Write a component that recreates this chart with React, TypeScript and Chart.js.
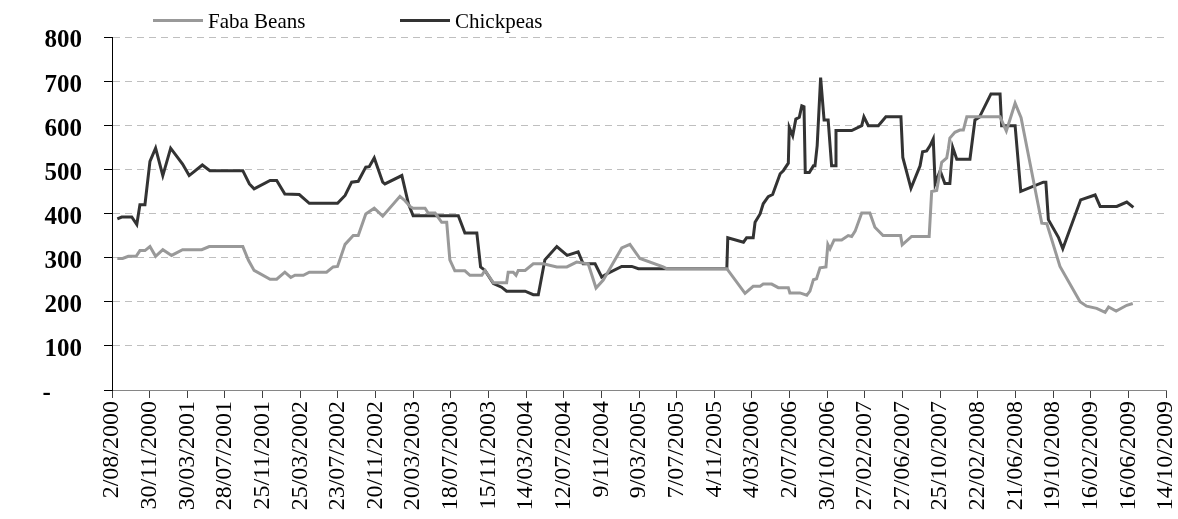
import React, { useEffect, useRef } from 'react';
import { Chart, registerables } from 'chart.js';

Chart.register(...registerables);

// Axis definition: days counted from 2/08/2000, ticks every 120 days up to 14/10/2009
const START_UTC = Date.UTC(2000, 7, 2);
const X_TICK_STEP_DAYS = 120;
const X_MAX_DAYS = 3360;
const Y_MIN = 0;
const Y_MAX = 800;
const Y_STEP = 100;

const seriesLabels = ['Faba Beans', 'Chickpeas'];

// Faba Beans ($/t) — x in days since 2/08/2000
const fabaDays = [
  17, 34, 52, 77, 89, 105, 121, 139, 162, 190, 225, 286, 310, 417, 435, 453, 504, 525, 551, 570,
  583, 610, 629, 684, 705, 719, 743, 769, 785, 809, 836, 863, 918, 934, 950, 960, 998, 1008, 1030, 1051,
  1067, 1077, 1093, 1125, 1141, 1179, 1189, 1216, 1258, 1263, 1279, 1288, 1295, 1317, 1343, 1375, 1418, 1450, 1481, 1518,
  1543, 1566, 1625, 1651, 1683, 1757, 1768, 1960, 2018, 2044, 2066, 2076, 2103, 2124, 2156, 2161, 2193, 2215, 2225, 2236,
  2246, 2257, 2276, 2282, 2289, 2302, 2326, 2347, 2358, 2369, 2390, 2416, 2432, 2458, 2514, 2519, 2549, 2605, 2613, 2629,
  2645, 2661, 2666, 2671, 2687, 2703, 2714, 2725, 2831, 2851, 2879, 2898, 2964, 2980, 3022, 3086, 3107, 3139, 3166, 3177,
  3201, 3235, 3254,
];
const fabaPrices = [
  298, 298, 303, 303, 316, 316, 325, 303, 318, 305, 318, 318, 325, 325, 294, 271, 251, 251, 267, 255,
  260, 260, 267, 267, 279, 280, 330, 350, 350, 399, 412, 394, 439, 429, 416, 412, 412, 401, 401, 380,
  380, 295, 270, 270, 260, 260, 271, 243, 243, 267, 267, 260, 271, 271, 286, 286, 279, 279, 290, 286,
  231, 249, 322, 330, 298, 279, 275, 275, 219, 235, 235, 240, 240, 232, 232, 220, 220, 215, 224, 250,
  252, 277, 279, 330, 320, 340, 340, 350, 348, 360, 401, 401, 369, 350, 350, 329, 348, 348, 450, 452,
  516, 526, 546, 571, 584, 589, 589, 619, 619, 587, 650, 617, 378, 377, 280, 200, 190, 185, 176, 188,
  179, 192, 196,
];

// Chickpeas ($/t)
const chickDays = [
  17, 31, 63, 79, 89, 105, 121, 139, 162, 187, 225, 246, 288, 312, 417, 438, 453, 504, 525, 551,
  597, 629, 719, 743, 764, 785, 809, 820, 836, 863, 870, 924, 945, 960, 1104, 1125, 1163, 1175, 1189, 1216,
  1242, 1258, 1317, 1343, 1359, 1380, 1418, 1451, 1486, 1502, 1540, 1561, 1582, 1625, 1657, 1678, 1960, 1963, 2013, 2023,
  2044, 2050, 2066, 2076, 2092, 2106, 2130, 2140, 2156, 2159, 2170, 2180, 2191, 2199, 2206, 2210, 2223, 2236, 2241, 2248,
  2259, 2270, 2283, 2294, 2305, 2308, 2358, 2390, 2397, 2411, 2443, 2467, 2515, 2521, 2547, 2576, 2584, 2597, 2608, 2618,
  2624, 2640, 2655, 2671, 2680, 2693, 2735, 2751, 2765, 2802, 2831, 2836, 2879, 2897, 2969, 2977, 2985, 3017, 3031, 3088,
  3134, 3150, 3203, 3235, 3256,
];
const chickPrices = [
  388, 392, 392, 375, 420, 420, 518, 548, 486, 548, 512, 486, 510, 497, 497, 467, 456, 475, 475, 444,
  443, 423, 423, 441, 471, 473, 505, 506, 526, 471, 467, 486, 422, 395, 395, 356, 356, 279, 271, 241,
  233, 224, 224, 216, 216, 295, 325, 305, 313, 286, 286, 256, 265, 280, 280, 275, 275, 345, 335, 345,
  345, 380, 399, 422, 438, 443, 490, 497, 514, 595, 576, 614, 618, 644, 642, 493, 493, 508, 508, 554,
  708, 612, 612, 508, 508, 588, 588, 599, 619, 599, 599, 619, 619, 527, 457, 508, 540, 542, 554, 569,
  468, 497, 468, 468, 550, 523, 523, 612, 618, 671, 671, 599, 599, 450, 471, 471, 386, 346, 320, 431,
  442, 416, 416, 426, 414,
];

const seriesColors = ['#999999', '#333333'];

const toPoints = (xs: number[], ys: number[]) => xs.map((x, i) => ({ x, y: ys[i] }));

const formatDay = (v: number) => {
  const d = new Date(START_UTC + Math.round(v) * 86400000);
  const mm = String(d.getUTCMonth() + 1).padStart(2, '0');
  return `${d.getUTCDate()}/${mm}/${d.getUTCFullYear()}`;
};

const SERIF = '"Liberation Serif", "Times New Roman", serif';

const legendPlugin = {
  id: 'customLegend',
  afterDraw(chart: any) {
    const { ctx, chartArea } = chart;
    const items = [
      { lineStart: chartArea.left + 41, text: chart.data.datasets[0].label, color: chart.data.datasets[0].borderColor },
      { lineStart: chartArea.left + 288, text: chart.data.datasets[1].label, color: chart.data.datasets[1].borderColor },
    ];
    ctx.save();
    ctx.font = `21px ${SERIF}`;
    ctx.textBaseline = 'alphabetic';
    ctx.textAlign = 'left';
    items.forEach((it) => {
      ctx.strokeStyle = it.color;
      ctx.lineWidth = 3;
      ctx.beginPath();
      ctx.moveTo(it.lineStart, 20.5);
      ctx.lineTo(it.lineStart + 50, 20.5);
      ctx.stroke();
      ctx.fillStyle = '#000000';
      ctx.fillText(it.text, it.lineStart + 55, 27.5);
    });
    ctx.restore();
  },
};

export default function App() {
  const canvasRef = useRef<HTMLCanvasElement | null>(null);

  useEffect(() => {
    if (!canvasRef.current) return;
    const chart = new Chart(canvasRef.current, {
      type: 'line',
      data: {
        datasets: [
          {
            label: seriesLabels[0],
            data: toPoints(fabaDays, fabaPrices),
            borderColor: seriesColors[0],
            backgroundColor: seriesColors[0],
            borderWidth: 3,
            pointRadius: 0,
            tension: 0,
            fill: false,
          },
          {
            label: seriesLabels[1],
            data: toPoints(chickDays, chickPrices),
            borderColor: seriesColors[1],
            backgroundColor: seriesColors[1],
            borderWidth: 3,
            pointRadius: 0,
            tension: 0,
            fill: false,
          },
        ],
      },
      options: {
        responsive: false,
        animation: false,
        events: [],
        layout: { padding: { top: 36, right: 12, left: 0, bottom: 0 } },
        plugins: {
          legend: { display: false },
          tooltip: { enabled: false },
          title: { display: false },
        },
        scales: {
          x: {
            type: 'linear',
            min: 0,
            max: X_MAX_DAYS,
            afterFit: (scale: any) => {
              scale.height = 129;
              scale.paddingLeft = 0;
              scale.paddingRight = 0;
            },
            grid: {
              drawOnChartArea: false,
              drawTicks: true,
              tickLength: 8,
              tickColor: '#404040',
              tickWidth: 1,
            },
            border: { display: true, color: '#868686', width: 1 },
            ticks: {
              stepSize: X_TICK_STEP_DAYS,
              autoSkip: false,
              minRotation: 90,
              maxRotation: 90,
              padding: 3,
              color: '#000000',
              font: { family: SERIF, size: 24 },
              callback: (v: any) => formatDay(Number(v)),
            },
          },
          y: {
            min: Y_MIN,
            max: Y_MAX,
            afterFit: (scale: any) => {
              scale.width = 112;
            },
            grid: {
              color: '#bfbfbf',
              lineWidth: 1,
              drawTicks: true,
              tickLength: 8,
              tickColor: '#000000',
              tickWidth: 1,
              tickBorderDash: [],
            },
            border: { display: true, color: '#000000', width: 1, dash: [7, 5] },
            ticks: {
              stepSize: Y_STEP,
              padding: 22,
              labelOffset: 4,
              color: '#000000',
              font: { family: SERIF, size: 25, weight: 'bold' },
              callback: (v: any) => (Number(v) === 0 ? '-     ' : String(v)),
            },
          },
        },
      },
      plugins: [legendPlugin],
    } as any);
    return () => chart.destroy();
  }, []);

  return (
    <div style={{ position: 'absolute', left: 0, top: 0, width: 1178, height: 519, background: '#ffffff' }}>
      <canvas ref={canvasRef} width={1178} height={519} />
    </div>
  );
}
